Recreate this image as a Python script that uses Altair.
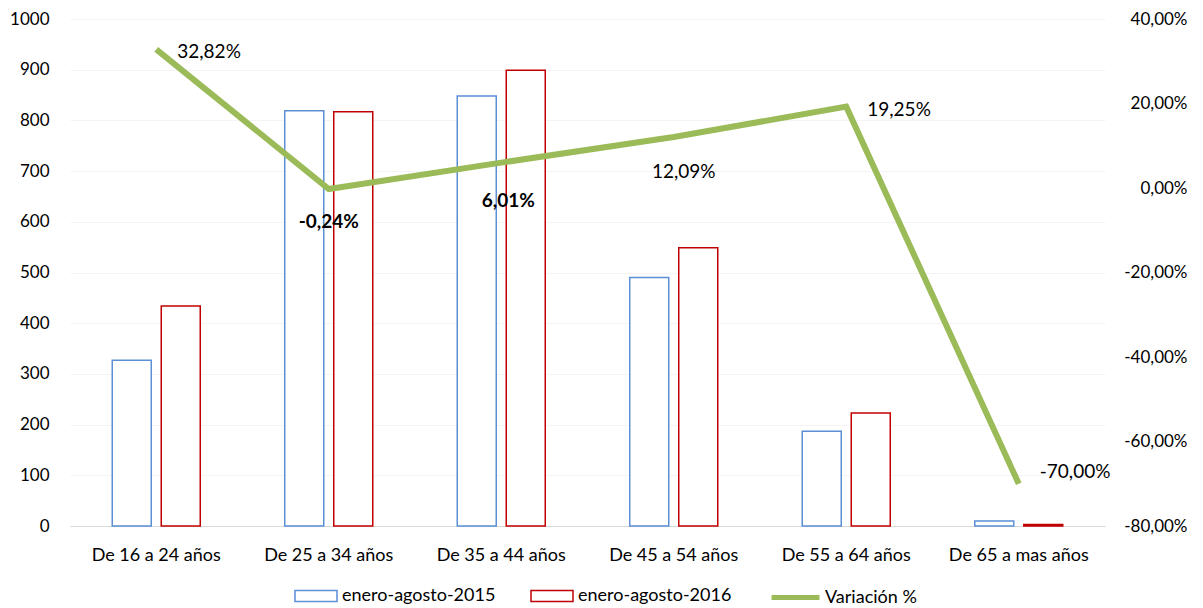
import altair as alt
import pandas as pd

categories = ["De 16 a 24 años", "De 25 a 34 años", "De 35 a 44 años",
              "De 45 a 54 años", "De 55 a 64 años", "De 65 a mas años"]
series_names = ["enero-agosto-2015", "enero-agosto-2016"]
values_2015 = [327, 819, 848, 490, 187, 10]
values_2016 = [434, 817, 899, 549, 223, 3]
line_name = "Variación %"
variacion = [32.82, -0.24, 6.01, 12.09, 19.25, -70.00]
left_ticks = [0, 100, 200, 300, 400, 500, 600, 700, 800, 900, 1000]
right_ticks = [-80, -60, -40, -20, 0, 20, 40]

BLUE = "#5b8fd6"
RED = "#c00000"
GREEN = "#9bbb59"
FONT = "Lato"

bar_df = pd.DataFrame({
    "cat": categories * 2,
    "serie": [series_names[0]] * len(categories) + [series_names[1]] * len(categories),
    "valor": values_2015 + values_2016,
})
line_df = pd.DataFrame({"cat": categories, "var": variacion, "nombre": [line_name] * len(categories)})

x_enc = alt.X("cat:N", sort=categories,
              scale=alt.Scale(domain=categories, paddingInner=0, paddingOuter=0),
              axis=alt.Axis(title=None, labelAngle=0, domainColor="#d9d9d9", domainWidth=1,
                            ticks=False, tickSize=0, labelPadding=20, labelFontSize=18,
                            labelFont=FONT, labelColor="#000000", grid=False))

bars = alt.Chart(bar_df).mark_bar(fill="white", strokeWidth=1.5).encode(
    x=x_enc,
    xOffset=alt.XOffset("serie:N", sort=series_names,
                        scale=alt.Scale(domain=series_names, paddingInner=0.204, paddingOuter=0.862)),
    y=alt.Y("valor:Q", scale=alt.Scale(domain=[0, 1000], nice=False),
            axis=alt.Axis(title=None, orient="left", values=left_ticks, format="d",
                          domain=False, ticks=False, tickSize=0, labelPadding=21,
                          labelFontSize=17, labelFont=FONT, labelColor="#000000",
                          grid=True, gridColor="#f4f4f4")),
    stroke=alt.Stroke("serie:N", scale=alt.Scale(domain=series_names, range=[BLUE, RED]),
                      legend=alt.Legend(title=None, orient="none", legendX=224, legendY=555,
                                        direction="horizontal",
                                        symbolType="M-1,-0.26H1V0.26H-1Z", symbolSize=1764,
                                        symbolFillColor="white", symbolStrokeWidth=1.5,
                                        labelFontSize=18, labelFont=FONT, labelColor="#000000",
                                        labelOffset=4, columnPadding=32)),
)


def right_y(show_axis):
    if show_axis:
        ax = alt.Axis(title=None, orient="right", values=right_ticks,
                      labelExpr="(datum.value < 0 ? '-' : '') + replace(format(abs(datum.value), '.2f'), '.', ',') + '%'",
                      domain=False, ticks=False, tickSize=0, labelPadding=82, labelAlign="right",
                      labelFontSize=17, labelFont=FONT, labelColor="#000000", grid=False)
        return alt.Y("var:Q", scale=alt.Scale(domain=[-80, 40], nice=False), axis=ax)
    return alt.Y("var:Q", scale=alt.Scale(domain=[-80, 40], nice=False))


line = alt.Chart(line_df).mark_line(strokeWidth=6, strokeJoin="miter").encode(
    x=alt.X("cat:N", sort=categories),
    y=right_y(True),
    color=alt.Color("nombre:N", scale=alt.Scale(domain=[line_name], range=[GREEN]),
                    legend=alt.Legend(title=None, orient="none", legendX=699, legendY=552,
                                      symbolType="stroke", symbolSize=2304, symbolStrokeWidth=5,
                                      labelFontSize=18, labelFont=FONT, labelColor="#000000",
                                      labelOffset=3)),
)

label_expr = "(datum.var < 0 ? '-' : '') + replace(format(abs(datum.var), '.2f'), '.', ',') + '%'"
base_text = alt.Chart(line_df).transform_calculate(lbl=label_expr)


def text_layer(cats, dx, dy, align, weight):
    return base_text.transform_filter(
        alt.FieldOneOfPredicate(field="cat", oneOf=cats)
    ).mark_text(align=align, baseline="middle", dx=dx, dy=dy, fontSize=19, font=FONT,
                fontWeight=weight, color="#000000").encode(
        x=alt.X("cat:N", sort=categories),
        y=right_y(False),
        text="lbl:N",
    )


t_right = text_layer([categories[0], categories[4]], 21, 3, "left", "normal")
t_last = text_layer([categories[5]], 21, -12, "left", "normal")
t_b1 = text_layer([categories[1]], 0, 33, "center", "bold")
t_b2 = text_layer([categories[2]], 7, 38, "center", "bold")
t_n = text_layer([categories[3]], 10, 35, "center", "normal")

right_layer = alt.layer(line, t_right, t_last, t_b1, t_b2, t_n)

chart = alt.layer(bars, right_layer).resolve_scale(y="independent").properties(
    width=1035, height=507,
    padding={"left": 62, "top": 11, "right": 90, "bottom": 80},
    autosize=alt.AutoSizeParams(type="none"),
    background="white",
).configure_view(strokeWidth=0)

chart.save("out.html", embed_options={"renderer": "svg", "actions": False})
